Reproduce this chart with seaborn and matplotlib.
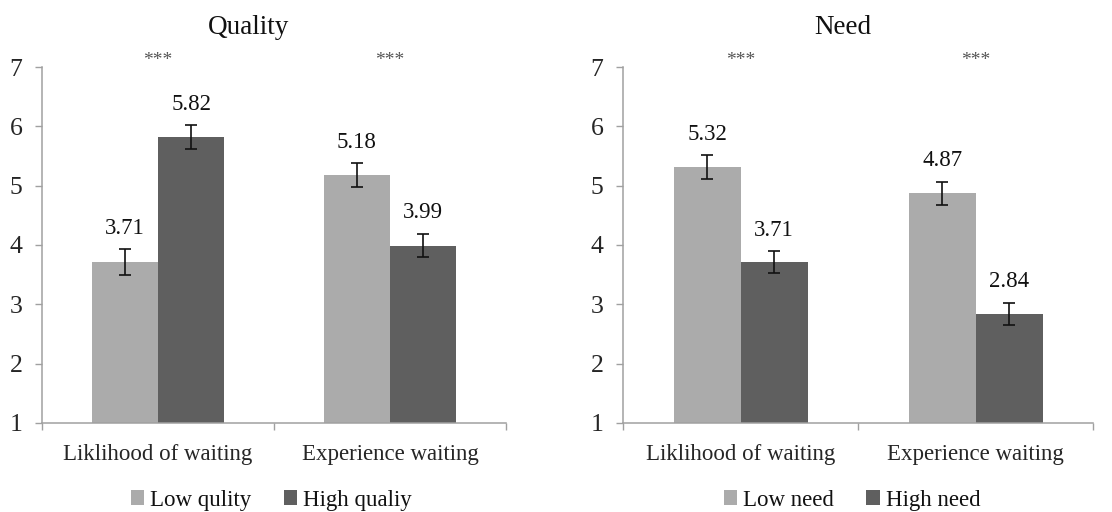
import matplotlib
matplotlib.use("Agg")
import matplotlib.pyplot as plt
from matplotlib.patches import Patch
from matplotlib.ticker import FixedLocator
import seaborn as sns
import pandas as pd

# Outcome measures on the x axis
categories = ["Liklihood of waiting", "Experience waiting"]

# Quality manipulation: means and standard errors
quality_levels = ["Low qulity", "High qualiy"]
quality_low = [3.71, 5.18]
quality_high = [5.82, 3.99]
quality_low_se = [0.22, 0.20]
quality_high_se = [0.20, 0.20]

# Need manipulation: means and standard errors
need_levels = ["Low need", "High need"]
need_low = [5.32, 4.87]
need_high = [3.71, 2.84]
need_low_se = [0.20, 0.20]
need_high_se = [0.19, 0.19]

significance = ["***", "***"]
y_ticks = [1, 2, 3, 4, 5, 6, 7]

LIGHT = "#ababab"
DARK = "#5f5f5f"
AXIS = "#a0a0a0"

sns.set_theme(style="white")
plt.rcParams["font.family"] = ["Liberation Serif", "DejaVu Serif"]
plt.rcParams["text.color"] = "#111111"

fig = plt.figure(figsize=(11.12, 5.12), dpi=100)
ax_q = fig.add_axes([0.0378, 0.174, 0.4173, 0.695])
ax_n = fig.add_axes([0.5603, 0.174, 0.4227, 0.695])


def draw_panel(ax, title, title_x, levels, low, high, low_se, high_se, legend_x):
    df = pd.DataFrame({
        "measure": categories * 2,
        "group": [levels[0]] * len(categories) + [levels[1]] * len(categories),
        "mean": list(low) + list(high),
    })
    sns.barplot(data=df, x="measure", y="mean", hue="group",
                hue_order=levels, order=categories,
                palette=[LIGHT, DARK], saturation=1, width=0.57,
                errorbar=None, legend=False, ax=ax, linewidth=0)

    for container, means, ses in zip(ax.containers, [low, high], [low_se, high_se]):
        for bar, m, se in zip(container, means, ses):
            cx = bar.get_x() + bar.get_width() / 2
            ax.errorbar(cx, m, yerr=se, fmt="none", ecolor="#111111",
                        elinewidth=1.2, capsize=4, capthick=1.2, zorder=5)
            ax.annotate(f"{m:.2f}", xy=(cx, m + se), xytext=(0, 11),
                        textcoords="offset points", ha="center",
                        va="baseline", fontsize=16.5)

    for i, s in enumerate(significance):
        ax.text(i, 6.97, s, ha="center", va="bottom", fontsize=14,
                color="#555555", clip_on=False)

    ax.set_ylim(1, 7)
    ax.set_xlim(-0.5, 1.5)
    ax.set_yticks(y_ticks)
    ax.set_yticklabels([str(t) for t in y_ticks], fontsize=18.5)
    ax.set_xticks(range(len(categories)))
    ax.set_xticklabels(categories, fontsize=16.5)
    ax.xaxis.set_minor_locator(FixedLocator([-0.5, 0.5, 1.5]))
    ax.tick_params(axis="x", which="major", length=0, pad=15)
    ax.tick_params(axis="x", which="minor", length=5, width=1, color=AXIS,
                   direction="out", bottom=True)
    ax.tick_params(axis="y", length=5, width=1, color=AXIS, direction="out",
                   left=True, pad=9)
    ax.set_xlabel("")
    ax.set_ylabel("")
    for side in ["top", "right"]:
        ax.spines[side].set_visible(False)
    for side in ["left", "bottom"]:
        ax.spines[side].set_color(AXIS)
        ax.spines[side].set_linewidth(1.1)

    ax.text(title_x, 1.11, title, transform=ax.transAxes, ha="center",
            va="center", fontsize=19.5)

    handles = [Patch(facecolor=LIGHT, edgecolor="none", label=levels[0]),
               Patch(facecolor=DARK, edgecolor="none", label=levels[1])]
    ax.legend(handles=handles, loc="center", bbox_to_anchor=(legend_x, -0.217),
              ncol=2, frameon=False, fontsize=16.5, handlelength=0.6,
              handleheight=0.6, handletextpad=0.25, columnspacing=1.4,
              borderaxespad=0)


draw_panel(ax_q, "Quality", 0.446, quality_levels, quality_low, quality_high,
           quality_low_se, quality_high_se, 0.494)
draw_panel(ax_n, "Need", 0.468, need_levels, need_low, need_high,
           need_low_se, need_high_se, 0.487)

fig.savefig("out.png", dpi=100)
